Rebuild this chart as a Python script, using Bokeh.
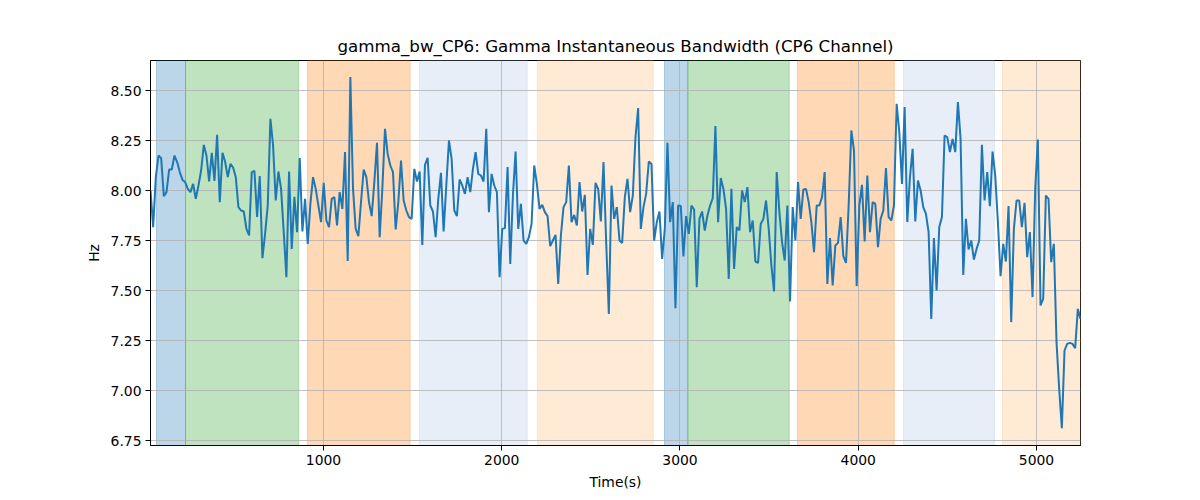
from bokeh.embed import file_html
from bokeh.resources import INLINE
from bokeh.plotting import figure
from bokeh.models import Range1d, BoxAnnotation, FixedTicker, PrintfTickFormatter
import numpy as np

# gamma bandwidth of channel CP6 (Hz)
bw_part1 = [8.00, 7.817, 8.067, 8.175, 8.162, 7.972, 7.992, 8.105, 8.105, 8.175,
            8.142, 8.092, 8.053, 8.042, 8.008, 7.992, 8.033, 7.958, 8.025, 8.10,
            8.228, 8.175, 8.045, 8.188, 8.048, 8.278, 7.942, 8.188, 8.145, 8.067,
            8.133, 8.115, 8.067, 7.917, 7.90, 7.895, 7.808, 7.775, 8.092, 8.098,
            7.868, 8.072, 7.662, 7.783, 7.925, 8.358, 8.225, 7.95, 8.095, 8.008,
            7.792, 7.567, 8.095, 7.708, 7.968, 7.792, 8.162, 7.795, 7.958]
bw_part2 = [7.733, 7.933, 8.067, 8.008, 7.925, 7.842, 8.038, 7.85, 7.817, 7.958,
            7.967, 7.825, 7.992, 7.908, 8.192, 7.647, 8.567, 8.008, 7.808, 7.772,
            7.942, 8.105, 8.067, 7.942, 7.872, 8.042, 8.238, 7.767, 8.008, 8.308,
            8.183, 8.125, 8.092, 7.805, 7.942, 8.15, 7.95, 7.90, 7.867, 7.858,
            8.108, 8.045, 8.095, 7.728, 8.128, 8.163, 7.925, 7.895, 7.767, 7.958,
            8.088, 7.795, 8.025, 8.25, 8.158, 7.90, 7.872, 8.055]
bw_part3 = [8.025, 7.983, 8.067, 7.992, 8.108, 8.192, 8.083, 8.075, 8.045, 8.308,
            7.892, 8.083, 8.025, 7.992, 7.567, 7.808, 7.812, 8.117, 7.633, 7.975,
            8.195, 7.808, 7.933, 7.75, 7.733, 7.767, 7.833, 8.125, 8.033, 7.908,
            7.928, 7.892, 7.872, 7.722, 7.75, 7.778, 7.533, 7.775, 7.917, 7.942,
            8.125, 7.842, 7.878, 7.825, 8.042, 7.895, 7.978, 7.578, 7.808, 7.728,
            8.038, 8.008, 7.845, 8.142, 7.742, 7.383, 8.025, 7.858]
bw_part4 = [7.917, 7.75, 7.738, 7.967, 8.058, 7.892, 7.975, 8.267, 8.412, 7.808,
            7.917, 7.983, 8.145, 8.133, 7.75, 7.842, 7.895, 7.658, 7.808, 8.238,
            7.842, 7.942, 7.412, 7.925, 7.922, 7.67, 7.872, 7.783, 7.925, 7.905,
            7.517, 7.858, 7.895, 7.80, 7.875, 7.925, 7.962, 8.322, 7.842, 8.062,
            8.008, 7.908, 7.558, 8.008, 7.608, 7.817, 7.80, 8.00, 7.942, 8.017,
            7.792, 7.85, 7.645, 7.638, 7.833, 7.858, 7.95, 7.808]
bw_part5 = [7.625, 7.495, 8.092, 7.892, 7.742, 7.65, 7.925, 7.445, 7.917, 7.75,
            8.042, 7.858, 8.005, 8.008, 7.942, 7.842, 7.692, 7.925, 7.925, 7.967,
            8.092, 7.533, 7.762, 7.525, 7.725, 7.738, 7.867, 7.672, 7.638, 7.925,
            8.30, 8.20, 7.522, 7.925, 8.028, 7.745, 8.075, 7.792, 7.942, 7.933,
            7.717, 7.858, 7.90, 8.112, 7.867, 7.85, 7.925, 8.433, 8.292, 8.033,
            8.417, 7.842, 8.067, 8.208, 7.845, 8.05, 8.00, 7.917]
bw_part6 = [7.883, 7.792, 7.358, 7.762, 7.50, 7.817, 7.867, 8.275, 8.267, 8.192,
            8.258, 8.192, 8.442, 8.258, 7.578, 7.858, 7.705, 7.75, 7.655, 7.708,
            7.75, 8.228, 7.95, 8.092, 7.922, 8.195, 8.075, 7.842, 7.572, 7.733,
            7.645, 7.922, 7.342, 7.808, 7.95, 7.95, 7.817, 7.938, 7.667, 7.792,
            7.467, 8.008, 8.255, 7.425, 7.458, 7.975, 7.958, 7.642, 7.733, 7.242,
            7.008, 6.812, 7.20, 7.233, 7.238, 7.233, 7.212, 7.408, 7.358]

t_start = 29.4
t_end = 5247.0

# shaded phases (start, end, colour); None = up to the right edge
band_starts = [63, 226, 910, 1538, 2200, 2913, 3044, 3659, 4254, 4809]
band_ends = [226, 861, 1486, 2143, 2850, 3044, 3613, 4202, 4764, None]
band_colors = ["#1f77b4", "#2ca02c", "#ff7f0e", "#aec7e8", "#ffbb78",
               "#1f77b4", "#2ca02c", "#ff7f0e", "#aec7e8", "#ffbb78"]

y_ticks = [6.75, 7.0, 7.25, 7.5, 7.75, 8.0, 8.25, 8.5]
x_ticks = [1000, 2000, 3000, 4000, 5000]

bw = bw_part1 + bw_part2 + bw_part3 + bw_part4 + bw_part5 + bw_part6
t = np.linspace(t_start, t_end, len(bw))

FONT = "DejaVu Sans"

p = figure(width=1184, height=492, output_backend="svg", toolbar_location=None,
           x_range=Range1d(t_start, t_end), y_range=Range1d(6.725, 8.65),
           title="gamma_bw_CP6: Gamma Instantaneous Bandwidth (CP6 Channel)",
           min_border_left=150, min_border_right=104,
           min_border_top=60, min_border_bottom=47)

for s, e, c in zip(band_starts, band_ends, band_colors):
    p.add_layout(BoxAnnotation(left=s, right=e, fill_color=c, fill_alpha=0.3,
                               line_color=c, line_alpha=0.3, line_width=1,
                               level="image"))

p.line(t, bw, line_color="#1f77b4", line_width=2)

p.title.align = "center"
p.title.text_font = FONT
p.title.text_font_style = "normal"
p.title.text_font_size = "16.7px"
p.title.text_color = "black"

p.xaxis.axis_label = "Time(s)"
p.yaxis.axis_label = "Hz"
p.xaxis.ticker = FixedTicker(ticks=x_ticks)
p.yaxis.ticker = FixedTicker(ticks=y_ticks)
p.yaxis.formatter = PrintfTickFormatter(format="%.2f")

for ax in [p.xaxis[0], p.yaxis[0]]:
    ax.axis_label_text_font = FONT
    ax.axis_label_text_font_style = "normal"
    ax.axis_label_text_font_size = "13.9px"
    ax.axis_label_text_color = "black"
    ax.major_label_text_font = FONT
    ax.major_label_text_font_size = "13.9px"
    ax.major_label_text_color = "black"
    ax.minor_tick_line_color = None
    ax.major_tick_in = 0
    ax.major_tick_out = 5
    ax.major_label_standoff = 4
    ax.axis_label_standoff = 6
    ax.axis_line_color = "black"
    ax.major_tick_line_color = "black"

p.grid.grid_line_color = "#b0b0b0"
p.grid.grid_line_width = 0.8
p.outline_line_color = "black"
p.outline_line_alpha = 1
p.background_fill_color = "white"

open("out.html", "w").write(file_html(p, INLINE))
